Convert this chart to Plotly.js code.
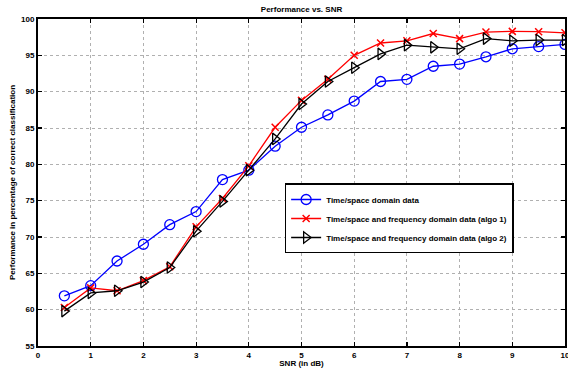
<!DOCTYPE html>
<html><head><meta charset="utf-8">
<script src="https://cdn.plot.ly/plotly-3.0.1.min.js"></script>
<style>html,body{margin:0;padding:0;background:#fff}#chart{width:568px;height:368px}</style>
</head><body><div id="chart"></div>
<script>
const snr = [0.5,1,1.5,2,2.5,3,3.5,4,4.5,5,5.5,6,6.5,7,7.5,8,8.5,9,9.5,10];
const timeSpace = [61.9,63.3,66.7,69.0,71.7,73.5,77.9,79.2,82.5,85.1,86.8,88.7,91.4,91.7,93.5,93.8,94.8,95.9,96.2,96.5];
const algo1 = [60.3,63.0,62.6,64.0,65.9,71.4,75.3,79.8,85.1,88.8,91.7,95.0,96.7,97.0,98.0,97.3,98.2,98.3,98.25,98.1];
const algo2 = [59.8,62.3,62.6,63.8,65.8,70.8,74.9,79.2,83.5,88.3,91.4,93.3,95.2,96.4,96.1,95.9,97.3,97.0,97.1,97.1];
const names = ["Time/space domain data","Time/space and frequency domain data (algo 1)","Time/space and frequency domain data (algo 2)"];
const xTicks = [0,1,2,3,4,5,6,7,8,9,10];
const yTicks = [55,60,65,70,75,80,85,90,95,100];

const fnt = {family:"Liberation Sans, Arial, sans-serif", size:8, color:"#000", weight:"bold"};
const traces = [
  {x:snr, y:timeSpace, name:names[0], mode:"lines+markers", line:{color:"#0000ff",width:1.3},
   marker:{symbol:"circle-open",size:10,color:"#0000ff",line:{width:1.3}}},
  {x:snr, y:algo1, name:names[1], mode:"lines+markers", line:{color:"#ff0000",width:1.3},
   marker:{symbol:"x-thin-open",size:7,color:"#ff0000",line:{width:1.5,color:"#ff0000"}}},
  {x:snr, y:algo2, name:names[2], mode:"lines+markers", line:{color:"#000000",width:1.3},
   marker:{symbol:"triangle-right-open",size:10,color:"#000000",line:{width:1.3}}}
];
const axBase = {showline:true, linecolor:"#000", linewidth:2, mirror:"ticks", ticks:"inside",
  ticklen:4, tickwidth:1.2, tickcolor:"#000", showgrid:true, gridcolor:"#b0b0b0", griddash:"dot",
  gridwidth:1, zeroline:false, tickfont:fnt, ticklabeloverflow:"allow"};
const layout = {
  width:568, height:368, paper_bgcolor:"#fff", plot_bgcolor:"#fff",
  margin:{l:38, r:3, t:19, b:22},
  title:{text:"Performance vs. SNR", font:fnt, xref:"paper", x:0.5, yref:"container", y:0.975, yanchor:"middle"},
  xaxis:Object.assign({}, axBase, {range:[0,10], tickvals:xTicks, ticktext:xTicks.map(String),
    title:{text:"SNR (in dB)", font:fnt, standoff:0}}),
  yaxis:Object.assign({}, axBase, {range:[55,100], tickvals:yTicks, ticktext:yTicks.map(String),
    title:{text:"Performance in percentage of correct classification", font:fnt, standoff:4}}),
  showlegend:true,
  legend:{x:0.468, y:0.497, xanchor:"left", yanchor:"top", bgcolor:"#fff", bordercolor:"#000",
    borderwidth:1.5, font:fnt, itemwidth:30, tracegroupgap:0},
};
Plotly.newPlot("chart", traces, layout, {staticPlot:true, displayModeBar:false});
</script></body></html>
